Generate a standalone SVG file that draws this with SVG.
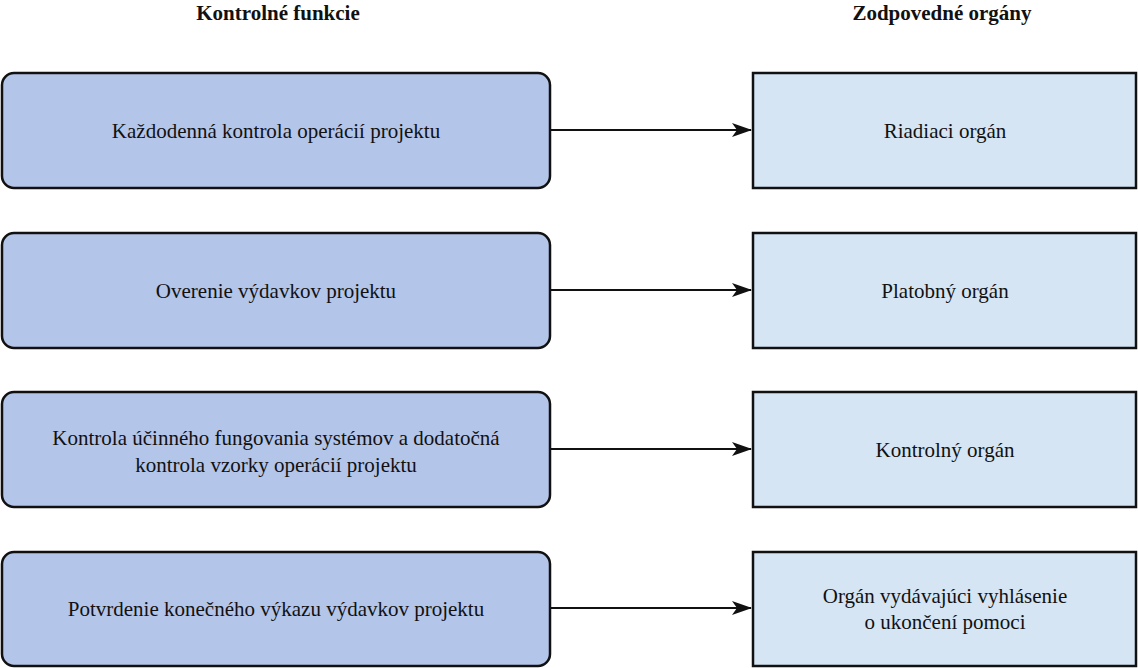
<svg xmlns="http://www.w3.org/2000/svg" width="1138" height="668" viewBox="0 0 1138 668">
<style>
.t{font-family:"Liberation Serif","Times New Roman",serif;font-size:21px;fill:#111;text-anchor:middle}
.h{font-family:"Liberation Serif","Times New Roman",serif;font-size:21px;font-weight:bold;fill:#111;text-anchor:middle}
.l{fill:#b4c5ea;stroke:#111;stroke-width:2.5}
.r{fill:#d5e5f4;stroke:#111;stroke-width:2.5}
.c{stroke:#111;stroke-width:2.2;fill:none;marker-end:url(#a)}
</style>
<defs>
<marker id="a" markerWidth="20" markerHeight="14" refX="19" refY="7" orient="auto" markerUnits="userSpaceOnUse" viewBox="0 0 20 14">
<path d="M0,0 L20,7 L0,14 L5,7 Z" fill="#111"/>
</marker>
</defs>
<rect width="1138" height="668" fill="#fff"/>
<text class="h" x="278" y="20">Kontrolné funkcie</text>
<text class="h" x="942" y="20">Zodpovedné orgány</text>
<g id="connectors">
<line class="c" x1="550" y1="130" x2="751" y2="130"/>
<line class="c" x1="550" y1="290" x2="751" y2="290"/>
<line class="c" x1="550" y1="449" x2="751" y2="449"/>
<line class="c" x1="550" y1="608" x2="751" y2="608"/>
</g>
<g id="f1"><rect class="l" x="2" y="73" width="548" height="115" rx="12"/><text class="t" x="276" y="138">Každodenná kontrola operácií projektu</text></g>
<g id="f2"><rect class="l" x="2" y="233" width="548" height="115" rx="12"/><text class="t" x="276" y="298">Overenie výdavkov projektu</text></g>
<g id="f3"><rect class="l" x="2" y="392" width="548" height="115" rx="12"/><text class="t" x="276" y="445">Kontrola účinného fungovania systémov a dodatočná</text><text class="t" x="276" y="472">kontrola vzorky operácií projektu</text></g>
<g id="f4"><rect class="l" x="2" y="552" width="548" height="114" rx="12"/><text class="t" x="276" y="616">Potvrdenie konečného výkazu výdavkov projektu</text></g>
<g id="o1"><rect class="r" x="753" y="73" width="383" height="115"/><text class="t" x="945" y="138">Riadiaci orgán</text></g>
<g id="o2"><rect class="r" x="753" y="233" width="383" height="115"/><text class="t" x="945" y="298">Platobný orgán</text></g>
<g id="o3"><rect class="r" x="753" y="392" width="383" height="115"/><text class="t" x="945" y="457">Kontrolný orgán</text></g>
<g id="o4"><rect class="r" x="753" y="552" width="383" height="114"/><text class="t" x="945" y="603">Orgán vydávajúci vyhlásenie</text><text class="t" x="945" y="629">o ukončení pomoci</text></g>
</svg>
